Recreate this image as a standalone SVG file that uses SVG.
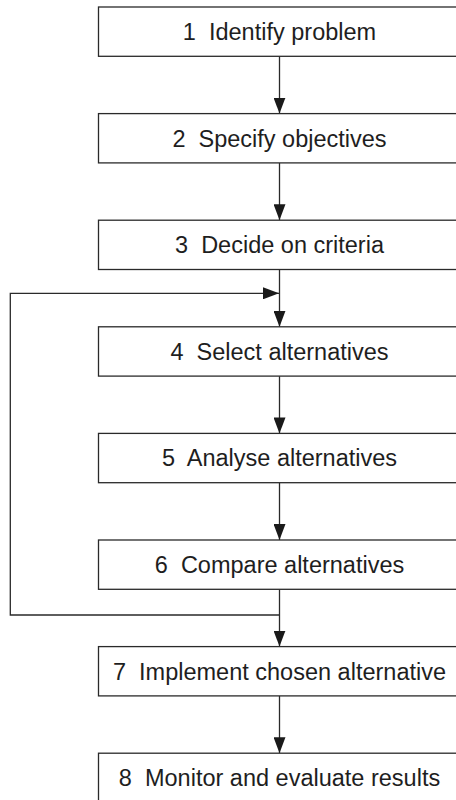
<svg xmlns="http://www.w3.org/2000/svg" width="456" height="800" viewBox="0 0 456 800">
  <style>
    .box { fill: #ffffff; stroke: #2a2a2a; stroke-width: 1.3; }
    .lbl { font-family: "Liberation Sans", Arial, sans-serif; font-size: 23.5px; fill: #1e1e1e; text-anchor: middle; white-space: pre; }
    .wire { fill: none; stroke: #2a2a2a; stroke-width: 1.3; }
  </style>
  <defs>
    <marker id="head" viewBox="0 0 16 12" refX="16" refY="6" markerWidth="16" markerHeight="12" markerUnits="userSpaceOnUse" orient="auto">
      <path d="M0,0 L16,6 L0,12 Z" fill="#1a1a1a"/>
    </marker>
  </defs>
  <rect width="456" height="800" fill="#ffffff"/>

  <g id="connectors">
    <line class="wire" x1="279.5" y1="56.3" x2="279.5" y2="113.6" marker-end="url(#head)"/>
    <line class="wire" x1="279.5" y1="163" x2="279.5" y2="220.2" marker-end="url(#head)"/>
    <line class="wire" x1="279.5" y1="269.6" x2="279.5" y2="326.8" marker-end="url(#head)"/>
    <polyline class="wire" points="279.5,615 10.3,615 10.3,293.3 279,293.3" marker-end="url(#head)"/>
    <line class="wire" x1="279.5" y1="376.2" x2="279.5" y2="433.4" marker-end="url(#head)"/>
    <line class="wire" x1="279.5" y1="482.8" x2="279.5" y2="540" marker-end="url(#head)"/>
    <line class="wire" x1="279.5" y1="589.4" x2="279.5" y2="646.6" marker-end="url(#head)"/>
    <line class="wire" x1="279.5" y1="696" x2="279.5" y2="753.2" marker-end="url(#head)"/>
  </g>

  <g id="step1">
    <rect class="box" x="98.5" y="7" width="364" height="49.3"/>
    <text class="lbl" x="279.5" y="40">1  Identify problem</text>
  </g>
  <g id="step2">
    <rect class="box" x="98.5" y="113.6" width="364" height="49.3"/>
    <text class="lbl" x="279.5" y="146.6">2  Specify objectives</text>
  </g>
  <g id="step3">
    <rect class="box" x="98.5" y="220.2" width="364" height="49.3"/>
    <text class="lbl" x="279.5" y="253.2">3  Decide on criteria</text>
  </g>
  <g id="step4">
    <rect class="box" x="98.5" y="326.8" width="364" height="49.3"/>
    <text class="lbl" x="279.5" y="359.8">4  Select alternatives</text>
  </g>
  <g id="step5">
    <rect class="box" x="98.5" y="433.4" width="364" height="49.3"/>
    <text class="lbl" x="279.5" y="466.4">5  Analyse alternatives</text>
  </g>
  <g id="step6">
    <rect class="box" x="98.5" y="540" width="364" height="49.3"/>
    <text class="lbl" x="279.5" y="573">6  Compare alternatives</text>
  </g>
  <g id="step7">
    <rect class="box" x="98.5" y="646.6" width="364" height="49.3"/>
    <text class="lbl" x="279.5" y="679.6">7  Implement chosen alternative</text>
  </g>
  <g id="step8">
    <rect class="box" x="98.5" y="753.2" width="364" height="49.3"/>
    <text class="lbl" x="279.5" y="786.2">8  Monitor and evaluate results</text>
  </g>
</svg>
